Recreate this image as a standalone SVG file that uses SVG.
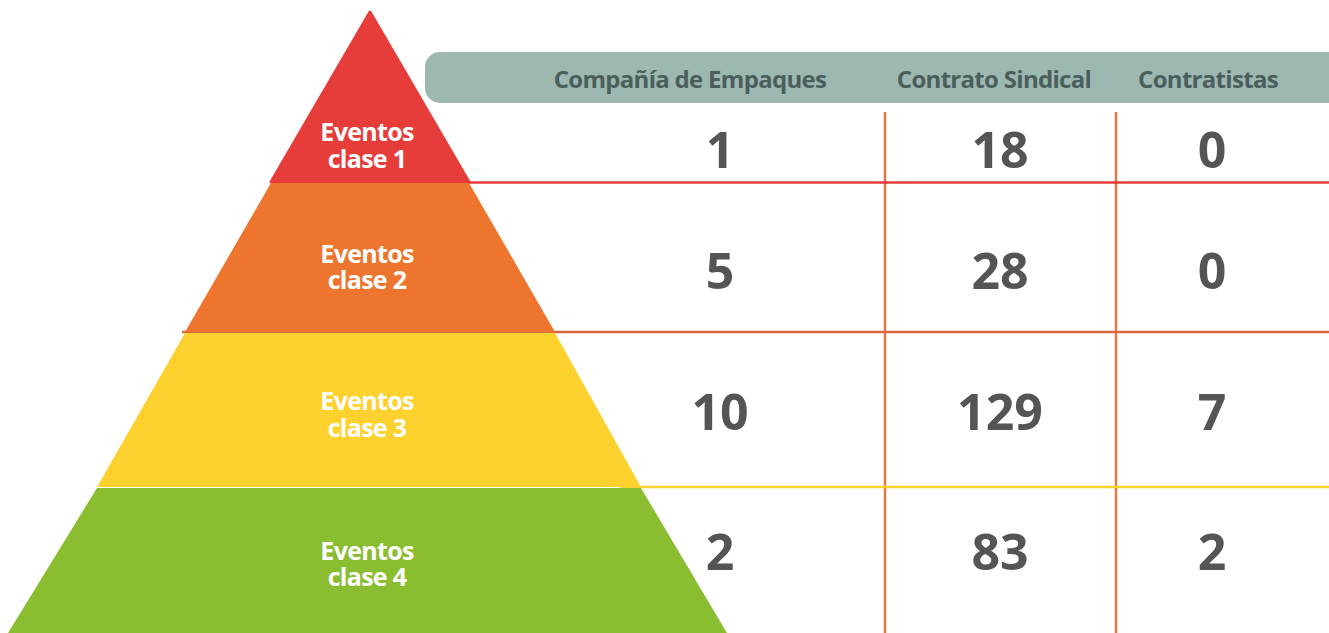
<svg xmlns="http://www.w3.org/2000/svg" width="1329" height="633" viewBox="0 0 1329 633">
<style>
.lbl{font-family:"Open Sans","Noto Sans",sans-serif;font-weight:700;font-size:25px;fill:#fff;text-anchor:middle;letter-spacing:-0.7px}
.hdr{font-family:"Open Sans","Noto Sans",sans-serif;font-weight:700;font-size:24px;fill:#4a5f5b;text-anchor:middle;letter-spacing:-0.7px}
.num{font-family:"Open Sans","Noto Sans",sans-serif;font-weight:700;font-size:50px;fill:#555555;text-anchor:middle}
</style>
<rect width="1329" height="633" fill="#ffffff"/>
<g id="header">
<rect x="425" y="52" width="930" height="51" rx="15" fill="#9cb8b0"/>
<text class="hdr" x="690" y="88">Compañía de Empaques</text>
<text class="hdr" x="994" y="88">Contrato Sindical</text>
<text class="hdr" x="1208" y="88">Contratistas</text>
</g>
<g id="connectors">
<line x1="885" y1="112" x2="885" y2="633" stroke="#de7a46" stroke-width="2.5"/>
<line x1="1116" y1="112" x2="1116" y2="633" stroke="#de7a46" stroke-width="2.5"/>
<line x1="440" y1="182.5" x2="1329" y2="182.5" stroke="#e63c3a" stroke-width="2.5"/>
<line x1="182" y1="332" x2="1329" y2="332" stroke="#d9673f" stroke-width="2.5"/>
<line x1="620" y1="487" x2="1329" y2="487" stroke="#fdd22f" stroke-width="2.5"/>
</g>
<g id="level1">
<polygon points="370,12 469,182 271,182" fill="#e63c3a" stroke="#e63c3a" stroke-linejoin="round" stroke-width="3"/>
<text class="lbl" x="367" y="141">Eventos<tspan x="367" dy="27">clase 1</tspan></text>
</g>
<g id="level2">
<polygon points="271,183 469,183 555,332 185,332" fill="#ee752d"/>
<text class="lbl" x="367" y="263">Eventos<tspan x="367" dy="26">clase 2</tspan></text>
</g>
<g id="level3">
<polygon points="185,333 555,333 641,487 97,487" fill="#fdd22f"/>
<text class="lbl" x="367" y="410">Eventos<tspan x="367" dy="27">clase 3</tspan></text>
</g>
<g id="level4">
<polygon points="97,488 641,488 727,633 8,633" fill="#8bbd31"/>
<text class="lbl" x="367" y="560">Eventos<tspan x="367" dy="26">clase 4</tspan></text>
</g>
<g id="values">
<text class="num" x="720" y="168">1</text>
<text class="num" x="1000" y="168">18</text>
<text class="num" x="1212" y="168">0</text>
<text class="num" x="720" y="289">5</text>
<text class="num" x="1000" y="289">28</text>
<text class="num" x="1212" y="289">0</text>
<text class="num" x="720" y="430">10</text>
<text class="num" x="1000" y="430">129</text>
<text class="num" x="1212" y="430">7</text>
<text class="num" x="720" y="570">2</text>
<text class="num" x="1000" y="570">83</text>
<text class="num" x="1212" y="570">2</text>
</g>
</svg>
